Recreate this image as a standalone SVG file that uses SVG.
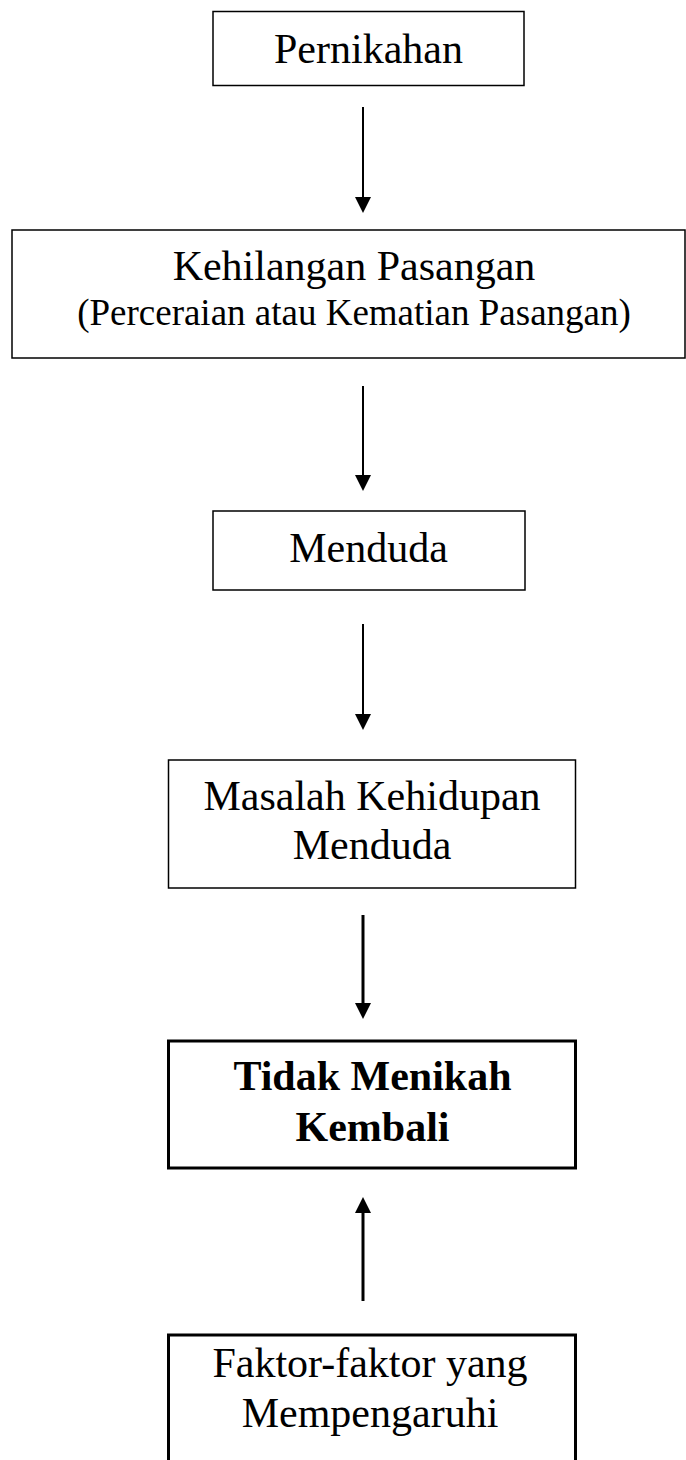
<svg xmlns="http://www.w3.org/2000/svg" width="686" height="1460" viewBox="0 0 686 1460">
  <style>
    .box { fill: #ffffff; stroke: #000000; stroke-width: 1.5; }
    .boxb { fill: #ffffff; stroke: #000000; stroke-width: 3; }
    .t { font-family: "Liberation Serif", "Times New Roman", serif; font-size: 42px; fill: #000000; text-anchor: middle; }
    .ts { font-family: "Liberation Serif", "Times New Roman", serif; font-size: 37px; fill: #000000; text-anchor: middle; }
    .tb { font-family: "Liberation Serif", "Times New Roman", serif; font-size: 42px; font-weight: bold; fill: #000000; text-anchor: middle; }
    .c { stroke: #000000; stroke-width: 2; fill: none; marker-end: url(#ah); }
    .cb { stroke: #000000; stroke-width: 3; fill: none; marker-end: url(#ah); }
  </style>
  <defs>
    <marker id="ah" markerUnits="userSpaceOnUse" markerWidth="16" markerHeight="16" viewBox="0 0 16 16" refX="0" refY="8" orient="auto">
      <path d="M0,0 L16,8 L0,16 Z" fill="#000000"/>
    </marker>
  </defs>
  <rect width="686" height="1460" fill="#ffffff"/>

  <g id="connectors">
    <line class="c" x1="363" y1="107" x2="363" y2="197"/>
    <line class="c" x1="363" y1="386" x2="363" y2="475"/>
    <line class="c" x1="363" y1="624" x2="363" y2="714"/>
    <line class="cb" x1="363" y1="915" x2="363" y2="1003"/>
    <line class="cb" x1="363" y1="1301" x2="363" y2="1213"/>
  </g>

  <g id="pernikahan">
    <rect class="box" x="213" y="11.5" width="311" height="74"/>
    <text class="t" x="368.5" y="63">Pernikahan</text>
  </g>

  <g id="kehilangan">
    <rect class="box" x="12" y="230" width="673" height="128"/>
    <text class="t" x="354" y="280">Kehilangan Pasangan</text>
    <text class="ts" x="354" y="325">(Perceraian atau Kematian Pasangan)</text>
  </g>

  <g id="menduda">
    <rect class="box" x="213" y="511" width="312" height="79"/>
    <text class="t" x="368.5" y="562">Menduda</text>
  </g>

  <g id="masalah">
    <rect class="box" x="168.5" y="760" width="407" height="128"/>
    <text class="t" x="372" y="810">Masalah Kehidupan</text>
    <text class="t" x="372" y="859">Menduda</text>
  </g>

  <g id="tidak-menikah">
    <rect class="boxb" x="168.5" y="1041" width="407" height="127"/>
    <text class="tb" x="372.5" y="1090">Tidak Menikah</text>
    <text class="tb" x="372.5" y="1141">Kembali</text>
  </g>

  <g id="faktor">
    <rect class="boxb" x="168.5" y="1335" width="407" height="140"/>
    <text class="t" x="370" y="1377">Faktor-faktor yang</text>
    <text class="t" x="370" y="1427">Mempengaruhi</text>
  </g>
</svg>
